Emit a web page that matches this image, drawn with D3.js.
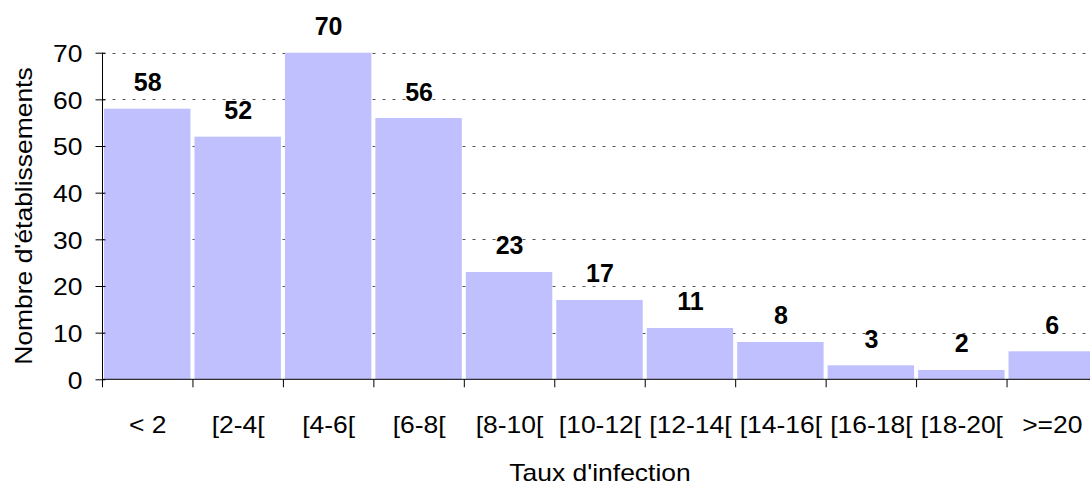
<!DOCTYPE html>
<html>
<head>
<meta charset="utf-8">
<script src="https://cdn.jsdelivr.net/npm/d3@7"></script>
<style>
  html, body { margin: 0; padding: 0; background: #fff; }
  svg { display: block; font-family: "Liberation Sans", Arial, sans-serif; }
</style>
</head>
<body>
<svg width="1090" height="486"></svg>

<script>
  // data
  var categories = ["< 2", "[2-4[", "[4-6[", "[6-8[", "[8-10[", "[10-12[", "[12-14[", "[14-16[", "[16-18[", "[18-20[", ">=20"];
  var counts = [58, 52, 70, 56, 23, 17, 11, 8, 3, 2, 6];
  var yTicks = [0, 10, 20, 30, 40, 50, 60, 70];

  // parameters
  var barColor = "#c0c0ff";
  var stretch = 1.15; // the text in the original is a bit wide
  var plotLeft = 102.5, plotRight = 1097.5, plotTop = 52.7, plotBottom = 379.3;

  var svg = d3.select("svg");

  var x = d3.scaleBand().domain(categories).range([plotLeft, plotRight]).padding(0);
  var y = d3.scaleLinear().domain([0, 70]).range([plotBottom, plotTop]);

  // dashed grid lines
  svg.append("g")
    .selectAll("line")
    .data(yTicks.filter(function(d){ return d > 0; }))
    .enter().append("line")
      .attr("x1", plotLeft)
      .attr("x2", plotRight)
      .attr("y1", function(d){ return Math.round(y(d)) + 0.5; })
      .attr("y2", function(d){ return Math.round(y(d)) + 0.5; })
      .attr("stroke", "#555")
      .attr("stroke-dasharray", "3,7");

  // bars
  svg.append("g")
    .selectAll("rect")
    .data(counts)
    .enter().append("rect")
      .attr("x", function(d, i){ return x(categories[i]) + 1.5; })
      .attr("width", x.bandwidth() - 4)
      .attr("y", function(d){ return y(d); })
      .attr("height", function(d){ return y(0) - y(d); })
      .style("fill", barColor);

  // value labels
  svg.append("g")
    .selectAll("text")
    .data(counts)
    .enter().append("text")
      .attr("x", function(d, i){ return x(categories[i]) + x.bandwidth() / 2; })
      .attr("y", function(d){ return y(d) - 17.5; })
      .attr("text-anchor", "middle")
      .style("font-weight", "bold")
      .style("font-size", "25px")
      .text(function(d){ return d; });

  // y axis
  var yAxis = svg.append("g")
    .attr("transform", "translate(" + plotLeft + ",0)")
    .call(d3.axisLeft(y).tickValues(yTicks).tickSize(7));
  yAxis.select(".domain").remove();
  yAxis.append("line")
    .attr("x1", 0).attr("x2", 0)
    .attr("y1", plotTop).attr("y2", plotBottom)
    .attr("stroke", "#000");
  yAxis.selectAll(".tick line").attr("x1", 3).attr("stroke", "#000");
  yAxis.selectAll(".tick text")
    .style("font-size", "23px")
    .style("font-family", "'Liberation Sans', Arial, sans-serif")
    .attr("fill", "#000")
    .attr("x", -20 / stretch)
    .attr("dy", "0.38em")
    .attr("transform", "scale(" + stretch + ",1)");

  // x axis
  var xAxis = svg.append("g")
    .attr("transform", "translate(0," + plotBottom + ")")
    .call(d3.axisBottom(x).tickSize(0).tickPadding(0));
  xAxis.select(".domain").remove();
  xAxis.append("line")
    .attr("x1", plotLeft).attr("x2", plotRight)
    .attr("stroke", "#000");
  xAxis.selectAll(".tick text")
    .style("font-size", "23px")
    .style("font-family", "'Liberation Sans', Arial, sans-serif")
    .attr("fill", "#000")
    .attr("dy", null)
    .attr("y", 54)
    .attr("transform", "scale(" + stretch + ",1)");

  // band separators below the axis
  xAxis.append("g")
    .selectAll("line")
    .data(categories)
    .enter().append("line")
      .attr("x1", function(d){ return x(d); })
      .attr("x2", function(d){ return x(d); })
      .attr("y1", 0)
      .attr("y2", 8)
      .attr("stroke", "#000");

  // axis titles
  svg.append("text")
    .attr("transform", "translate(" + ((plotLeft + plotRight) / 2) + ",481) scale(" + stretch + ",1)")
    .attr("text-anchor", "middle")
    .style("font-size", "23px")
    .text("Taux d'infection");

  svg.append("text")
    .attr("transform", "translate(32," + ((plotTop + plotBottom) / 2) + ") rotate(-90) scale(" + stretch + ",1)")
    .attr("text-anchor", "middle")
    .style("font-size", "23px")
    .text("Nombre d'établissements");
</script>
</body>
</html>
